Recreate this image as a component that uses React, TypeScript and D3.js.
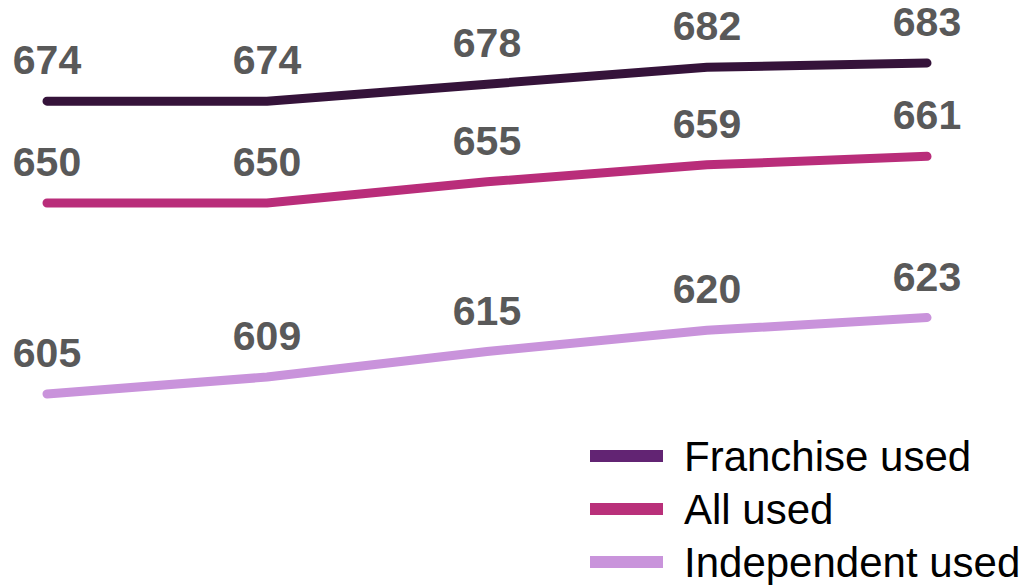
import React from "react";
import * as d3 from "d3";

const periods = ["P1", "P2", "P3", "P4", "P5"];
const franchiseUsed = [674, 674, 678, 682, 683];
const allUsed = [650, 650, 655, 659, 661];
const independentUsed = [605, 609, 615, 620, 623];
const seriesNames = ["Franchise used", "All used", "Independent used"];
const lineColors = ["#35133a", "#b92d7a", "#c993db"];
const legendColors = ["#622473", "#b9307a", "#c994db"];

export default function App() {
  const W = 1025;
  const H = 585;
  const x = d3.scalePoint<string>().domain(periods).range([47, 927]);
  const y = d3.scaleLinear().domain([605, 683]).range([394, 63]);
  const series = [franchiseUsed, allUsed, independentUsed];
  const line = d3
    .line<number>()
    .x((_, i) => x(periods[i]) as number)
    .y((d) => y(d));
  const font = "'Liberation Sans', Arial, sans-serif";

  return (
    <svg
      width={W}
      height={H}
      style={{ position: "absolute", left: 0, top: 0, background: "#fff" }}
    >
      {series.map((vals, si) => (
        <g key={si}>
          <path
            d={line(vals) || ""}
            fill="none"
            stroke={lineColors[si]}
            strokeWidth={9}
            strokeLinecap="round"
            strokeLinejoin="round"
          />
          {vals.map((v, i) => (
            <text
              key={i}
              x={x(periods[i]) as number}
              y={y(v) - 27}
              textAnchor="middle"
              fontFamily={font}
              fontWeight="bold"
              fontSize={41}
              fill="#595959"
            >
              {v}
            </text>
          ))}
        </g>
      ))}
      {seriesNames.map((name, i) => (
        <g key={name} transform={`translate(0, ${456 + i * 53})`}>
          <rect x={590} y={-6} width={73} height={12} fill={legendColors[i]} />
          <text
            x={684}
            y={15}
            fontFamily={font}
            fontSize={42}
            fill="#000"
          >
            {name}
          </text>
        </g>
      ))}
    </svg>
  );
}
